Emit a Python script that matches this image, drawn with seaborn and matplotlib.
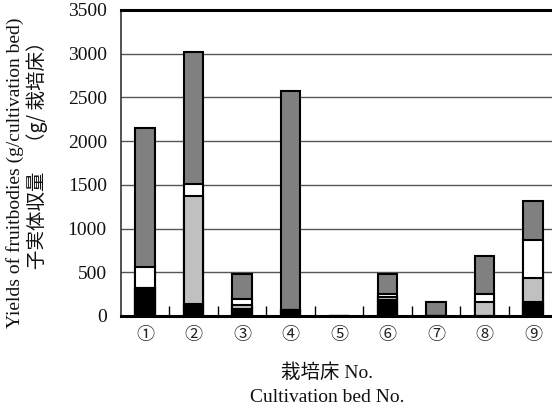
import pandas as pd
import seaborn as sns
import matplotlib.pyplot as plt

# bed numbers and yield segments (g/bed), bottom to top
beds = ["①", "②", "③", "④", "⑤", "⑥", "⑦", "⑧", "⑨"]
black_seg = [316, 133, 80, 68, 0, 183, 0, 0, 163]
lgray_seg = [0, 1237, 50, 0, 0, 37, 0, 156, 274]
white_seg = [245, 140, 60, 0, 0, 30, 0, 95, 431]
dgray_seg = [1589, 1510, 285, 2500, 0, 226, 163, 430, 452]

yticks = [0, 500, 1000, 1500, 2000, 2500, 3000, 3500]

sns.set_theme(style="white")
plt.rcParams['font.family'] = ['Liberation Serif', 'Noto Sans CJK JP', 'DejaVu Sans']

df = pd.DataFrame({"bed": beds, "black": black_seg, "lgray": lgray_seg,
                   "white": white_seg, "dgray": dgray_seg})
# cumulative heights so each layer can be drawn over the next one up
df["c1"] = df["black"]
df["c2"] = df["c1"] + df["lgray"]
df["c3"] = df["c2"] + df["white"]
df["c4"] = df["c3"] + df["dgray"]

fig = plt.figure(figsize=(5.52, 4.05), dpi=100)
ax = fig.add_axes([0.2187, 0.2198, 0.7908, 0.7556])

layers = [("c4", "#808080"), ("c3", "#ffffff"), ("c2", "#c0c0c0"), ("c1", "#000000")]
for col, color in layers:
    sns.barplot(data=df, x="bed", y=col, color=color, saturation=1, width=0.41,
                edgecolor="black", linewidth=1.5, ax=ax)

ax.set_xlim(-0.5, 8.5)
ax.set_ylim(0, 3500)
ax.set_yticks(yticks)
ax.set_yticklabels([str(v) for v in yticks], fontsize=14)
ax.set_xticks(range(len(beds)))
ax.set_xticklabels(beds, fontsize=13, family=['Noto Sans CJK JP'])
ax.set_xticks([i + 0.5 for i in range(len(beds) - 1)], minor=True)
ax.tick_params(axis="x", which="major", length=0, pad=7, colors="#222222")
ax.tick_params(axis="x", which="minor", direction="in", length=7, width=1, color="black", bottom=True)
ax.tick_params(axis="y", length=0, pad=10, colors="#111111")
ax.set_xlabel("")
ax.set_ylabel("")

ax.set_axisbelow(True)
ax.yaxis.grid(True, color="#555555", linewidth=1)
ax.spines["top"].set_linewidth(2.2)
ax.spines["top"].set_color("black")
ax.spines["bottom"].set_linewidth(2.2)
ax.spines["bottom"].set_color("black")
ax.spines["left"].set_linewidth(1.2)
ax.spines["left"].set_color("#333333")
ax.spines["right"].set_visible(False)

fig.text(15 / 552, 1 - 173 / 405, "Yields of fruitbodies (g/cultivation bed)", rotation=90,
         ha="center", va="center", fontsize=14, color="#111111")
fig.text(37 / 552, 1 - 150 / 405, "子実体収量　（g/ 栽培床）", rotation=90,
         ha="center", va="center", fontsize=14, color="#111111",
         family=['Noto Sans CJK JP'])
fig.text(327 / 552, 1 - 373 / 405, "栽培床 No.", ha="center", va="center",
         fontsize=14, color="#111111", family=['Liberation Serif', 'Noto Sans CJK JP'])
fig.text(327 / 552, 1 - 397 / 405, "Cultivation bed No.", ha="center", va="center",
         fontsize=14, color="#111111")

fig.savefig("out.png", dpi=100)
